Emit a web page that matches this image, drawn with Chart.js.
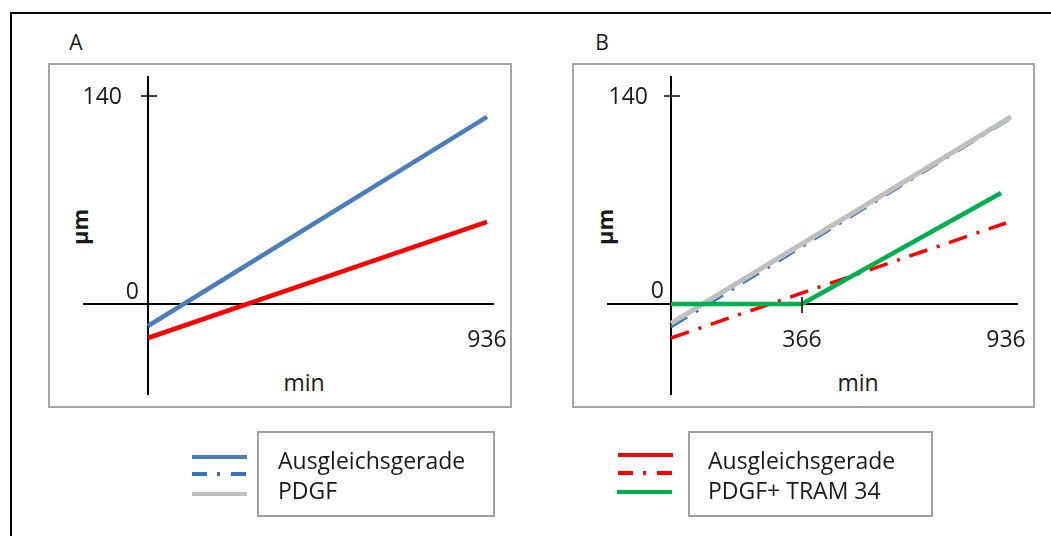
<!DOCTYPE html>
<html><head><meta charset="utf-8">
<script src="https://cdn.jsdelivr.net/npm/chart.js@4.4.1/dist/chart.umd.min.js"></script>
<style>
html,body{margin:0;padding:0;background:#fff;}
body{width:1051px;height:536px;position:relative;overflow:hidden;font-family:'Open Sans',sans-serif;color:#1a1a1a;}
.frame{position:absolute;left:10px;top:12px;width:1200px;height:700px;border-left:2px solid #000;border-top:2px solid #000;}
.panel{position:absolute;box-sizing:border-box;border:2px solid #a6a6a6;}
canvas{position:absolute;left:0;top:0;}
.c{position:absolute;transform:translate(-50%,-50%);white-space:nowrap;line-height:1;}
.lab{font-size:21px;}
.xt{font-size:23px;}
.yt{font-size:22px;font-weight:bold;transform:translate(-50%,-50%) rotate(-90deg);}
.legbox{position:absolute;box-sizing:border-box;border:2px solid #a0a0a0;}
.legtext{position:absolute;font-size:23px;line-height:30px;white-space:nowrap;}
svg{position:absolute;left:0;top:0;}
</style></head>
<body>
<div class="frame"></div>
<div class="panel" style="left:48px;top:63px;width:464px;height:345px;"></div>
<div class="panel" style="left:572px;top:63px;width:463px;height:345px;"></div>
<div class="c lab" style="left:76px;top:42px;">A</div>
<div class="c lab" style="left:602px;top:42px;">B</div>
<div class="c xt" style="left:304px;top:382px;">min</div>
<div class="c xt" style="left:858px;top:382px;">min</div>
<div class="c yt" style="left:79px;top:227px;">µm</div>
<div class="c yt" style="left:604px;top:227px;">µm</div>
<canvas id="cA" width="1151" height="536"></canvas>
<canvas id="cB" width="1151" height="536"></canvas>
<div class="legbox" style="left:257px;top:431px;width:238px;height:86px;"></div>
<div class="legbox" style="left:688px;top:431px;width:245px;height:86px;"></div>
<div class="legtext" id="legTextA" style="left:278px;top:445px;"></div>
<div class="legtext" id="legTextB" style="left:708px;top:445px;"></div>
<svg id="legSym" width="1051" height="536"></svg>
<script>
// ---- data ----
const yTicks = [0, 140];
const xTicksA = [936];
const xTicksB = [366, 936];
const crossXB = [366];
const crossY = [140];
const yRange = [-60.6, 152.8];
const xRangeA = [-176.7, 952.5];
const xRangeB = [-176, 966.7];

// Panel A: regression lines
const timeA = [0, 936];
const fitPdgfA = [-14.8, 125.9];
const fitTramA = [-22.9, 55.2];

// Panel B
const timePdgfB = [0, 950];
const pdgfB = [-13, 125.9];
const timeFitPdgfB = [0, 942];
const fitPdgfB = [-15.5, 123.8];
const timeFitTramB = [0, 936];
const fitTramB = [-22.9, 54.5];
const timeTramB = [0, 366, 922];
const tramB = [0, 0, 74.7];

const legendTextA = ['Ausgleichsgerade', 'PDGF'];
const legendTextB = ['Ausgleichsgerade', 'PDGF+ TRAM 34'];

// ---- styles ----
const S = {
  blue: {borderColor: '#4A7EBB', borderWidth: 4.5},
  red: {borderColor: '#FF0000', borderWidth: 4.5},
  gray: {borderColor: '#BFBFBF', borderWidth: 5},
  blueDash: {borderColor: '#3573C1', borderWidth: 3, borderDash: [19, 10, 3, 10]},
  redDash: {borderColor: '#FF0000', borderWidth: 3.5, borderDash: [19, 10, 3, 10]},
  green: {borderColor: '#00B050', borderWidth: 4.5}
};

const pts = (xs, ys) => xs.map((x, i) => ({x: x, y: ys[i]}));

Chart.defaults.font.family = "'Open Sans', sans-serif";

const axisDecor = {
  id: 'axisDecor',
  afterDraw(chart, args, o) {
    const ctx = chart.ctx, xs = chart.scales.x, ys = chart.scales.y;
    const x0 = xs.getPixelForValue(0), y0 = ys.getPixelForValue(0);
    ctx.save();
    ctx.strokeStyle = '#000'; ctx.lineWidth = 1.5;
    (o.yCross || []).forEach(v => {
      const p = ys.getPixelForValue(v);
      ctx.beginPath(); ctx.moveTo(x0 - 7, p); ctx.lineTo(x0 + 9, p); ctx.stroke();
    });
    (o.xCross || []).forEach(v => {
      const p = xs.getPixelForValue(v);
      ctx.beginPath(); ctx.moveTo(p, y0 - 7); ctx.lineTo(p, y0 + 9); ctx.stroke();
    });
    ctx.fillStyle = '#1a1a1a'; ctx.font = "23px 'Open Sans'";
    ctx.textAlign = 'right'; ctx.textBaseline = 'middle';
    ys.ticks.forEach(t => {
      const s = (o.yShift && o.yShift[t.value]) || [8, 0];
      const txt = (t.label !== undefined && t.label !== '') ? t.label : String(t.value);
      ctx.fillText(txt, x0 - s[0], ys.getPixelForValue(t.value) + s[1]);
    });
    ctx.restore();
  }
};

function makeChart(id, datasets, xTicks, xRange, pad, decor) {
  return new Chart(document.getElementById(id), {
    type: 'line',
    data: {datasets: datasets},
    options: {
      responsive: false, animation: false, events: [],
      layout: {padding: pad},
      elements: {point: {radius: 0}, line: {tension: 0, fill: false, borderCapStyle: 'butt'}},
      plugins: {legend: {display: false}, tooltip: {enabled: false}, axisDecor: decor},
      scales: {
        x: {
          type: 'linear', min: xRange[0], max: xRange[1], position: {y: 0},
          afterBuildTicks: ax => { ax.ticks = xTicks.map(v => ({value: v})); },
          grid: {display: false, drawTicks: false},
          border: {display: true, color: '#000', width: 2},
          ticks: {autoSkip: false, maxRotation: 0, padding: 23, color: '#1a1a1a',
                  font: {size: 23}, callback: v => String(v)}
        },
        y: {
          type: 'linear', min: yRange[0], max: yRange[1], position: {x: 0},
          afterBuildTicks: ax => { ax.ticks = yTicks.map(v => ({value: v})); },
          grid: {display: false, drawTicks: false},
          border: {display: true, color: '#000', width: 2},
          ticks: {display: false, callback: v => String(v)}
        }
      }
    },
    plugins: [axisDecor]
  });
}

makeChart('cA', [
  Object.assign({label: 'Ausgleichsgerade PDGF', data: pts(timeA, fitPdgfA)}, S.blue),
  Object.assign({label: 'Ausgleichsgerade PDGF+ TRAM 34', data: pts(timeA, fitTramA)}, S.red)
], xTicksA, xRangeA, {left: 84, right: 658, top: 77, bottom: 142},
  {yCross: crossY, xCross: [], yShift: {0: [9, -12], 140: [26, 1]}});

makeChart('cB', [
  Object.assign({label: 'PDGF+ TRAM 34', data: pts(timeTramB, tramB)}, S.green),
  Object.assign({label: 'PDGF', data: pts(timePdgfB, pdgfB)}, S.gray),
  Object.assign({label: 'Ausgleichsgerade PDGF', data: pts(timeFitPdgfB, fitPdgfB)}, S.blueDash),
  Object.assign({label: 'Ausgleichsgerade PDGF+ TRAM 34', data: pts(timeFitTramB, fitTramB)}, S.redDash)
], xTicksB, xRangeB, {left: 608, right: 134, top: 77, bottom: 142},
  {yCross: crossY, xCross: crossXB, yShift: {0: [7, -13], 140: [23, 1]}});

// ---- legends ----
document.getElementById('legTextA').innerHTML = legendTextA.join('<br>');
document.getElementById('legTextB').innerHTML = legendTextB.join('<br>');
const NS = 'http://www.w3.org/2000/svg';
const svg = document.getElementById('legSym');
function sym(x1, x2, y, st) {
  const l = document.createElementNS(NS, 'line');
  l.setAttribute('x1', x1); l.setAttribute('x2', x2);
  l.setAttribute('y1', y); l.setAttribute('y2', y);
  l.setAttribute('stroke', st.borderColor);
  l.setAttribute('stroke-width', 4);
  if (st.borderDash) l.setAttribute('stroke-dasharray', '15 10 3 11');
  svg.appendChild(l);
}
sym(192, 247, 457, S.blue);
sym(192, 247, 474, S.blueDash);
sym(192, 247, 494, S.gray);
sym(618, 673, 455, S.red);
sym(618, 673, 473, S.redDash);
sym(617, 672, 492, S.green);
</script>
</body></html>
